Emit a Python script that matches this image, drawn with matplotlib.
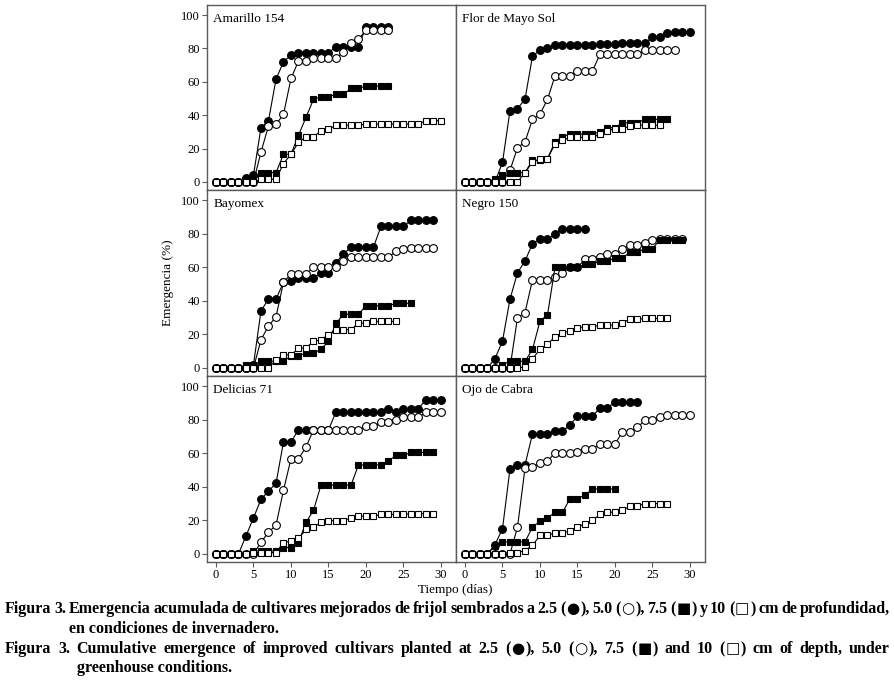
import matplotlib
matplotlib.use("Agg")
import matplotlib.pyplot as plt
import numpy as np

plt.rcParams['font.family'] = ['Liberation Serif', 'DejaVu Sans']

# ---------------- data (emergence %, one value per day starting at day 0) ----------------
cultivars = ["Amarillo 154", "Flor de Mayo Sol", "Bayomex", "Negro 150", "Delicias 71", "Ojo de Cabra"]

amarillo_25 = [0,0,0,0,2.6,4.2,32.5,36.7,61.5,72,76,77.4,77.4,77.4,77.4,77.4,81,81,81,81,93,93,93,93]
amarillo_50 = [0,0,0,0,0,0,18,33.5,34.5,40.5,62,72.5,72.5,74,74,74,74,78,83,85.4,91,91,91,91]
amarillo_75 = [0,0,0,0,0,0,5.6,5.6,5.6,16.6,16.6,28,38.7,49.5,51,51,52.5,52.5,56,56,57.5,57.5,57.5,57.5]
amarillo_10 = [0,0,0,0,0,0,1.6,1.6,1.6,11,16.6,23.7,27,27,30.7,31.5,34,34,34,34,34.7,34.7,34.7,34.7,34.7,34.7,34.7,34.7,36.7,36.7,36.7]

flor_25 = [0,0,0,0,0,11.8,42.7,44,49.5,75.4,79,80.4,82,82,82,82,82,82,82.4,82.4,82.4,83,83,83,83,87,87,89,89.6,89.6,89.6]
flor_50 = [0,0,0,0,0,0,7,20.5,24,37.5,40.7,49.5,63.5,63.5,63.5,66.5,66.5,66.5,76.6,76.6,76.6,76.6,76.6,76.6,79,79,79,79,79]
flor_75 = [0,0,0,0,2,4,5.6,5.6,5.6,13,13,14,24,27,28.7,28.7,28.7,28.7,30,32.5,32.5,35.5,35.5,35.5,37.5,37.5,37.5,37.5]
flor_10 = [0,0,0,0,0,0,0,0,5.6,12,13.6,14,22.8,25,26.7,26.7,26.7,26.7,28.7,30.7,32,32,33.5,34,34,34,34]

bayomex_25 = [0,0,0,0,0,2,34,41,41,51,52,53.5,53.5,53.5,56.7,56.7,62.7,68,72,72,72,72,84.4,84.4,84.4,84.4,88,88,88,88]
bayomex_50 = [0,0,0,0,0,0,16.8,25,30.5,51,56,56,56,60,60,60,60,63.7,66,66,66,66,66,66,69.5,71,71.7,71.7,71.7,71.7]
bayomex_75 = [0,0,0,0,2,2,4,4,4,4,7,7,9,9,11,16,26.5,32,32,32,37,37,37,37,38.5,38.5,38.5]
bayomex_10 = [0,0,0,0,0,0,0,0,4.6,7.8,7.8,11.6,12,15.8,16.8,19.8,22.8,22.8,22.8,26.7,26.7,27.7,27.7,27.7,27.7]

negro_25 = [0,0,0,0,5.6,16,41,56.7,63.7,74,77,77,79.6,82.8,82.8,82.8,82.8]
negro_50 = [0,0,0,0,0,0,0,30,33,52.5,52.5,52.5,54,56.7,60,60,64.7,64.7,66,68,68,71,73,73,74.6,76,77,77,77,77]
negro_75 = [0,0,0,0,0,2,4,4,4,11,28,31.5,60,60,60,60,61.7,61.7,63.7,63.7,65.5,65.5,69,69,71,71,76.5,76.5,76.5,76.5]
negro_10 = [0,0,0,0,0,0,0,0,0.6,5.6,11,14,18.7,21,22,24,24.5,24.5,25.5,25.5,25.5,27,29,29,29.5,29.5,29.5,29.5]

delicias_25 = [0,0,0,0,10.8,21.5,32.5,37.5,42,66.7,66.7,74,74,74,74,74,84.6,84.6,84.6,84.6,84.6,84.6,84.6,86.6,84.6,86.6,86.6,86.6,92,92,92]
delicias_50 = [0,0,0,0,0,0,7,13,17,38,56.7,56.7,63.7,74,74,74,74,74,74,74,76,76,78.6,78.6,80,81.4,81.4,81.4,84.4,84.4,84.4]
delicias_75 = [0,0,0,0,0,1.8,1.8,1.8,1.8,3.8,3.8,6.8,18.8,26,41,41,41,41,41,53,53,53,53,55.5,58.7,58.7,60.5,60.5,60.5,60.5]
delicias_10 = [0,0,0,0,0,0.8,0.8,0.8,0.8,6.8,7.6,9.2,14.6,16,18.8,19.8,19.8,19.8,21.5,22.5,22.5,22.5,23.5,23.5,23.5,23.5,24,24,24,24]

ojo_25 = [0,0,0,0,5.6,15,50.7,52.7,53,71.5,71.5,71.5,73,73,77,82,82,82,87,87,90.6,90.6,90.6,90.6]
ojo_50 = [0,0,0,0,0,0,0,16,51,52,54,55.5,60,60,60,61,62.7,62.7,65.5,65.5,65.5,72.7,72.7,75.4,79.6,79.6,81.4,82.6,82.6,82.6,82.6]
ojo_75 = [0,0,0,0,4.8,7.2,7.2,7.2,7.2,16,19.6,21.5,24.7,24.7,33,33,35,38.7,38.7,38.7,38.7]
ojo_10 = [0,0,0,0,0,0,0.8,0.8,2,5.2,11,11,12.6,12.6,13.6,16,18,20,23.5,24.7,25,26,28.5,28.5,30,30,30,30]

series = [
    (amarillo_25, amarillo_50, amarillo_75, amarillo_10),
    (flor_25, flor_50, flor_75, flor_10),
    (bayomex_25, bayomex_50, bayomex_75, bayomex_10),
    (negro_25, negro_50, negro_75, negro_10),
    (delicias_25, delicias_50, delicias_75, delicias_10),
    (ojo_25, ojo_50, ojo_75, ojo_10),
]

y_ticks = [0, 20, 40, 60, 80, 100]
x_ticks = [0, 5, 10, 15, 20, 25, 30]

# ---------------- figure ----------------
W, H = 895, 688
fig = plt.figure(figsize=(W / 100, H / 100), dpi=100)
fig.patch.set_facecolor("white")

col_px = [(207, 456), (456, 705)]
row_px = [(5, 190), (190, 376), (376, 562)]

styles = [
    dict(marker='o', mfc='black', mec='black'),
    dict(marker='o', mfc='white', mec='black'),
    dict(marker='s', mfc='black', mec='black'),
    dict(marker='s', mfc='white', mec='black'),
]

spine_color = '#5a5a5a'
for i, name in enumerate(cultivars):
    r, c = divmod(i, 2)
    x0, x1 = col_px[c]
    y0, y1 = row_px[r]
    ax = fig.add_axes([x0 / W, 1 - y1 / H, (x1 - x0) / W, (y1 - y0) / H])
    for k, (vals, st) in enumerate(zip(series[i], styles)):
        days = np.arange(len(vals))
        ax.plot(days, vals, color='black', lw=0.8, ms=5.6 if st['marker'] == 'o' else 4.8,
                mew=0.8, zorder=2 + k, **st)
    ax.set_xlim(-1.2, 32)
    ax.set_ylim(-4.8, 106)
    for sp in ax.spines.values():
        sp.set_color(spine_color)
        sp.set_linewidth(1.0)
    ax.text(0.025, 0.955, name, transform=ax.transAxes, ha='left', va='top', fontsize=9.5)
    ax.set_yticks(y_ticks)
    ax.set_xticks(x_ticks)
    ax.tick_params(direction='out', length=3.5, width=0.8, color=spine_color,
                   labelsize=9, pad=1.5)
    if c == 0:
        ax.tick_params(axis='y', left=True, labelleft=True)
    else:
        ax.tick_params(axis='y', left=False, labelleft=False)
    if r == 2:
        ax.tick_params(axis='x', bottom=True, labelbottom=True)
    else:
        ax.tick_params(axis='x', bottom=False, labelbottom=False)

fig.text(168 / W, 1 - 283 / H, "Emergencia (%)", rotation=90, ha='center', va='center', fontsize=9.5)
fig.text(455 / W, 1 - 590 / H, "Tiempo (días)", ha='center', va='center', fontsize=9.5)

# ---------------- caption ----------------
CAP_SIZE = 11.5
SYMBOLS = "●○■□"
renderer = fig.canvas.get_renderer()

def runs_of(word):
    out = []
    cur = ""
    cur_sym = None
    for ch in word:
        s = ch in SYMBOLS
        if cur and s != cur_sym:
            out.append((cur, cur_sym))
            cur = ""
        cur += ch
        cur_sym = s
    if cur:
        out.append((cur, cur_sym))
    return out

def make_word(word, y_base):
    pieces = []
    total = 0.0
    for txt, sym in runs_of(word):
        if sym:
            t = fig.text(0, 1 - y_base / H, txt, ha='left', va='baseline',
                         fontsize=CAP_SIZE * 0.95, family='DejaVu Sans')
        else:
            t = fig.text(0, 1 - y_base / H, txt, ha='left', va='baseline',
                         fontsize=CAP_SIZE, fontweight='bold', family='Liberation Serif')
        w = t.get_window_extent(renderer=renderer).width
        pieces.append((t, w))
        total += w
    return pieces, total

def place_word(pieces, x):
    for t, w in pieces:
        t.set_x(x / W)
        x += w + 0.8

def justified(text, x_left, x_right, y_base):
    words = text.split()
    made = [make_word(w, y_base) for w in words]
    widths = [m[1] + 0.8 * (len(m[0]) - 1) for m in made]
    gap = (x_right - x_left - sum(widths)) / max(len(words) - 1, 1)
    x = x_left
    for (pieces, _), wd in zip(made, widths):
        place_word(pieces, x)
        x += wd + gap

def plain(text, x_left, y_base):
    fig.text(x_left / W, 1 - y_base / H, text, ha='left', va='baseline',
             fontsize=CAP_SIZE, fontweight='bold', family='Liberation Serif')

justified("Figura 3. Emergencia acumulada de cultivares mejorados de frijol sembrados a 2.5 (●), 5.0 (○), 7.5 (■) y 10 (□) cm de profundidad,",
          5, 890, 613)
plain("en condiciones de invernadero.", 69, 633)
justified("Figura 3.  Cumulative emergence of improved cultivars planted at 2.5 (●), 5.0 (○), 7.5 (■) and 10 (□) cm of depth, under",
          5, 890, 653)
plain("greenhouse conditions.", 77, 672)

fig.savefig("out.png", dpi=100, facecolor="white")
